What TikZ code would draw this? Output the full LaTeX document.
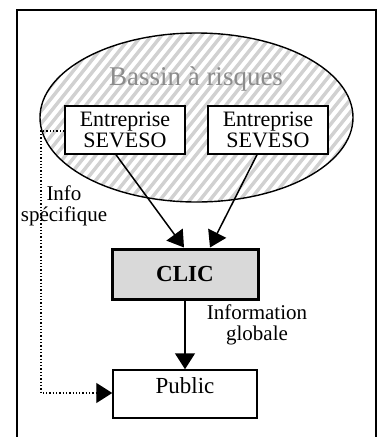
\documentclass[tikz,border=0pt]{standalone}
\usepackage{fontspec}
\setmainfont{Liberation Serif}
\usetikzlibrary{arrows.meta,calc}
\begin{document}
\begin{tikzpicture}[x=1pt,y=-1pt,
  box/.style={draw,line width=1.5pt,fill=white,rectangle,inner sep=0pt},
  bigtip/.style={-{Triangle[length=16pt,width=20pt]}},
  conn/.style={line width=1.5pt,bigtip},
  lbl/.style={align=center,inner sep=0pt,font=\fontsize{21}{21}\selectfont}]
\useasboundingbox (0,0) rectangle (378,437);
% frame
\draw[line width=1.7pt] (17,440) -- (17,10) -- (376,10) -- (376,440);
% ellipse with hatching
\coordinate (ec) at (196.5,117.5);
\begin{scope}
  \clip (ec) ellipse [x radius=156.5, y radius=84.5];
  \fill[white] (ec) ellipse [x radius=156.5, y radius=84.5];
  \foreach \i in {-300,-290,...,400}
    \draw[line width=3.4pt,black!18] (\i,250) -- (\i+200,0);
\end{scope}
\draw[line width=1.4pt] (ec) ellipse [x radius=156.5, y radius=84.5];
\node[font=\fontsize{27}{27}\selectfont,text=black!45,anchor=base] (bassin) at (196,85) {Bassin à risques};
% boxes
\node[box,minimum width=120,minimum height=48,align=center,font=\fontsize{22}{21}\selectfont] (e1) at (125,130) {Entreprise\\SEVESO};
\node[box,minimum width=120,minimum height=48,align=center,font=\fontsize{22}{21}\selectfont] (e2) at (268,130) {Entreprise\\SEVESO};
\node[box,line width=3pt,fill=black!15,minimum width=146,minimum height=50,font=\fontsize{23}{23}\selectfont\bfseries] (clic) at (185,274) {CLIC};
\node[box,minimum width=144,inner ysep=6pt,text height=17pt,text depth=19pt,font=\fontsize{23}{23}\selectfont] (pub) at (185,394) {Public};
% connectors
\draw[conn] ($(e1.south)+(-9,0)$) -- ($(clic.north)+(-1,0)$);
\draw[conn] ($(e2.south)+(-11,0)$) -- ($(clic.north)+(25,0)$);
\draw[conn] (clic.south) -- (pub.north);
\coordinate (d1) at (41,131);
\coordinate (d2) at (41,393);
\draw[line width=1.4pt,dash pattern=on 1.3pt off 2pt,bigtip] (e1.west |- d1) -- (d1) -- (d2) -- (pub.west |- d2);
% labels
\node[lbl] (info) at (64,206) {Info\\spécifique};
\node[lbl] (glob) at (257,325) {Information\\globale};
\end{tikzpicture}
\end{document}
